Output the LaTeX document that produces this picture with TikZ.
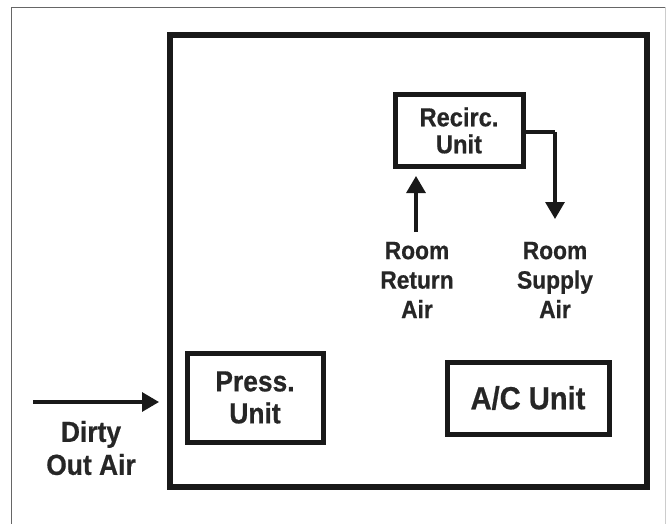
\documentclass[tikz,border=0pt]{standalone}
\usepackage{fontspec}
\setmainfont{Liberation Sans}[FakeStretch=0.91,BoldFeatures={FakeBold=0.6}]
\usetikzlibrary{arrows.meta}
\begin{document}
\begin{tikzpicture}[x=1pt,y=-1pt,
  unitbox/.style={draw=black!90,line width=5pt,inner sep=0pt,align=center,text=black!85},
  lbl/.style={font=\bfseries\fontsize{25}{29.5}\selectfont,align=center,inner sep=0pt,text=black!85},
  arr/.style={line width=3.2pt,draw=black!90,-{Triangle[length=17pt,width=19pt]}},
  frame/.style={line width=1.2pt,draw=black!60}]
\useasboundingbox (0,0) rectangle (666,524);
% outer frame
\draw[frame] (11.5,524) -- (11.5,7.5) -- (665.5,7.5);
\draw[line width=1pt,draw=black!20] (665.5,7.5) -- (665.5,524);
% main enclosure
\node[draw=black!90,line width=5.5pt,minimum width=477pt,minimum height=452pt,inner sep=0pt] (room) at (408.5,261) {};
% units
\node[unitbox,minimum width=128pt,minimum height=71pt,
  font=\bfseries\fontsize{26}{27}\selectfont] (recirc) at (459,130.5) {Recirc.\\Unit};
\node[unitbox,minimum width=136pt,minimum height=89pt,
  font=\bfseries\fontsize{29}{32}\selectfont] (press) at (255,397.5) {Press.\\Unit};
\node[unitbox,minimum width=162pt,minimum height=72pt,
  font=\bfseries\fontsize{32}{34}\selectfont] (ac) at (528,398) {A/C Unit};
% labels
\node[lbl] (ret) at (417,280) {Room\\Return\\Air};
\node[lbl] (sup) at (555,280) {Room\\Supply\\Air};
\node[lbl,font=\bfseries\fontsize{29}{33}\selectfont] (dirty) at (91,448) {Dirty\\Out Air};
% connectors
\coordinate (retstart) at (416,232);
\coordinate (retend) at (416,176);
\coordinate (supturn) at (555,132);
\coordinate (supend) at (555,219);
\coordinate (dstart) at (33,402);
\coordinate (dend) at (159,402);
\draw[arr] (retstart) -- (retend);
\draw[line width=3.2pt,draw=black!90] (recirc.east |- supturn) -- (supturn);
\draw[arr] (supturn) -- (supend);
\draw[arr] (dstart) -- (dend);
\end{tikzpicture}
\end{document}
